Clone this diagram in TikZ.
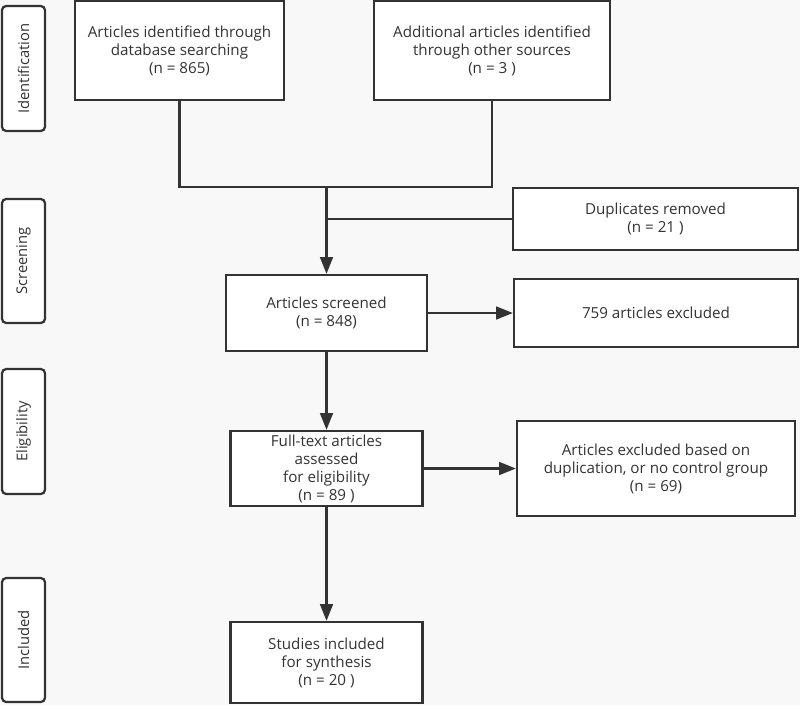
\documentclass[tikz,border=0pt]{standalone}
\usepackage{fontspec}
\setmainfont{Open Sans}
\usetikzlibrary{arrows.meta}
\definecolor{ink}{HTML}{333333}
\definecolor{paper}{HTML}{F8F8F8}
\tikzset{
  box/.style={draw=ink,line width=1.6pt,fill=white,text=ink,align=center,
    inner sep=0pt,font=\fontsize{10.8}{12.8}\selectfont},
  stage/.style={box,rounded corners=3pt,rotate=90,font=\fontsize{10.5}{12}\selectfont},
  link/.style={draw=ink,line width=1.6pt},
  arr/.style={link,-{Triangle[length=0.42cm,width=0.32cm]}}
}
\begin{document}
\begin{tikzpicture}[x=0.025cm,y=-0.025cm]
\fill[paper] (0,0) rectangle (800,705);
\useasboundingbox (0,0) rectangle (800,705);
% stages
\node[stage,minimum width=125*0.025cm,minimum height=43*0.025cm] (ident) at (23.5,68.5) {Identification};
\node[stage,minimum width=124*0.025cm,minimum height=43*0.025cm] (screen) at (23.5,261) {Screening};
\node[stage,minimum width=125*0.025cm,minimum height=43*0.025cm] (elig) at (23.5,431.5) {Eligibility};
\node[stage,minimum width=124*0.025cm,minimum height=43*0.025cm] (included) at (23.5,640) {Included};
% boxes
\node[box,minimum width=209*0.025cm,minimum height=99*0.025cm] (db) at (179.5,50.5)
  {Articles identified through\\database searching\\(n = 865)};
\node[box,minimum width=236*0.025cm,minimum height=99*0.025cm] (other) at (492,50.5)
  {Additional articles identified\\through other sources\\(n = 3 )};
\node[box,minimum width=285*0.025cm,minimum height=62*0.025cm] (dup) at (655.5,219)
  {Duplicates removed\\(n = 21 )};
\node[box,minimum width=201*0.025cm,minimum height=76*0.025cm] (screened) at (326.5,313)
  {Articles screened\\(n = 848)};
\node[box,minimum width=284*0.025cm,minimum height=68*0.025cm] (excla) at (656,313)
  {759 articles excluded};
\node[box,minimum width=192*0.025cm,minimum height=75*0.025cm] (full) at (326.5,468.5)
  {Full-text articles\\assessed\\for eligibility\\(n = 89 )};
\node[box,minimum width=278*0.025cm,minimum height=95*0.025cm] (exclb) at (656,468.5)
  {Articles excluded based on\\duplication, or no control group\\(n = 69)};
\node[box,minimum width=192*0.025cm,minimum height=81*0.025cm] (studies) at (326.5,662.5)
  {Studies included\\for synthesis\\(n = 20 )};
% connectors
\coordinate (join) at (326.5,187);
\draw[link] (db.south) |- (join) -| (other.south);
\draw[arr] (join) -- (screened.north);
\draw[link] (join |- dup.west) -- (dup.west);
\draw[arr] (screened.east) -- (excla.west);
\draw[arr] (screened.south) -- (full.north);
\draw[arr] (full.east) -- (exclb.west);
\draw[arr] (full.south) -- (studies.north);
\end{tikzpicture}
\end{document}
